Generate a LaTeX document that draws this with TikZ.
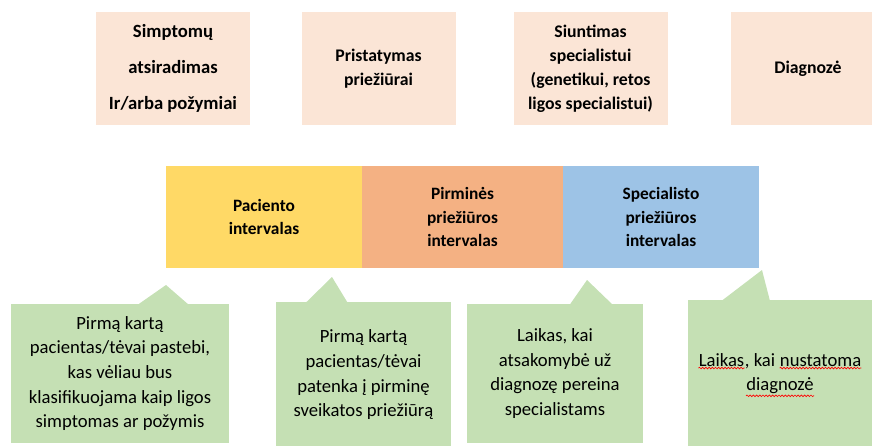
\documentclass[tikz,border=0pt]{standalone}
\usepackage{fontspec}
\setmainfont{Carlito}
\usetikzlibrary{decorations.pathmorphing}
\definecolor{stagepeach}{HTML}{FBE5D6}
\definecolor{patientgold}{HTML}{FFD966}
\definecolor{primaryorange}{HTML}{F4B183}
\definecolor{specialistblue}{HTML}{9DC3E6}
\definecolor{notegreen}{HTML}{C5E0B4}
\newcommand\spellmark[1]{\tikz[baseline=(w.base), x=1pt, y=1pt]{%
    \node[inner sep=0pt, fill=none, draw=none, minimum width=0pt, minimum height=0pt] (w) {#1};
    \draw[red, line width=0.5pt, decorate, decoration={snake, amplitude=0.6pt, segment length=2.4pt}]
    ([yshift=-1.2pt]w.south west) -- ([yshift=-1.2pt]w.south east);}}
\begin{document}
\begin{tikzpicture}[
    x=0.75pt, y=-0.75pt,
    every node/.style={inner sep=0pt, align=center},
    stagebox/.style={fill=stagepeach, minimum width=115.5pt, minimum height=84.75pt,
        font=\fontsize{13.3}{18}\selectfont\bfseries},
    barcell/.style={minimum height=76.5pt, font=\fontsize{13}{17.5}\selectfont\bfseries},
    notebox/.style={fill=notegreen, font=\fontsize{14}{18.5}\selectfont}
]
\clip (0,0) rectangle (872,446);

\node[stagebox, font=\fontsize{14}{27}\selectfont\bfseries] (onset) at (173,68.5) {Simptomų\\atsiradimas\\Ir/arba požymiai};
\node[stagebox] (presentation) at (378.5,68.5) {Pristatymas\\priežiūrai};
\node[stagebox] (referral) at (590.5,68.5) {Siuntimas\\specialistui\\(genetikui, retos\\ligos specialistui)};
\node[stagebox] (diagnosis) at (808,68.5) {Diagnozė};

\node[barcell, fill=patientgold, minimum width=147pt] (patient) at (264,217) {Paciento\\intervalas};
\node[barcell, fill=primaryorange, minimum width=150.75pt] (primary) at (462.5,217) {Pirminės\\priežiūros\\intervalas};
\node[barcell, fill=specialistblue, minimum width=147pt] (specialist) at (661,217) {Specialisto\\priežiūros\\intervalas};

\node[notebox, minimum width=163.5pt, minimum height=104.25pt] (note1) at (120,373.5) {Pirmą kartą\\pacientas/tėvai pastebi,\\kas vėliau bus\\klasifikuojama kaip ligos\\simptomas ar požymis};
\node[notebox, minimum width=131.25pt, minimum height=109.5pt] (note2) at (363.5,375) {Pirmą kartą\\pacientas/tėvai\\patenka į pirminę\\sveikatos priežiūrą};
\node[notebox, minimum width=132pt, minimum height=104.25pt] (note3) at (555,373.5) {Laikas, kai\\atsakomybė už\\diagnozę pereina\\specialistams};
\node[notebox, minimum width=138pt, minimum height=112.5pt] (note4) at (780,375) {\spellmark{Laikas}, kai \spellmark{nustatoma}\\\spellmark{diagnozė}};

\coordinate (tip1) at (166,285);
\coordinate (tip2) at (332,277);
\coordinate (tip3) at (587,280);
\coordinate (tip4) at (762,270);

\fill[notegreen] (note1.north west) ++(127,1) -- (tip1) -- ++(23,20) -- cycle;
\fill[notegreen] (note2.north west) ++(30,1) -- (tip2) -- ++(17,28) -- cycle;
\fill[notegreen] (note3.north west) ++(103,1) -- (tip3) -- ++(26,25) -- cycle;
\fill[notegreen] (note4.north west) ++(34,1) -- (tip4) -- ++(8,31) -- cycle;
\end{tikzpicture}
\end{document}
